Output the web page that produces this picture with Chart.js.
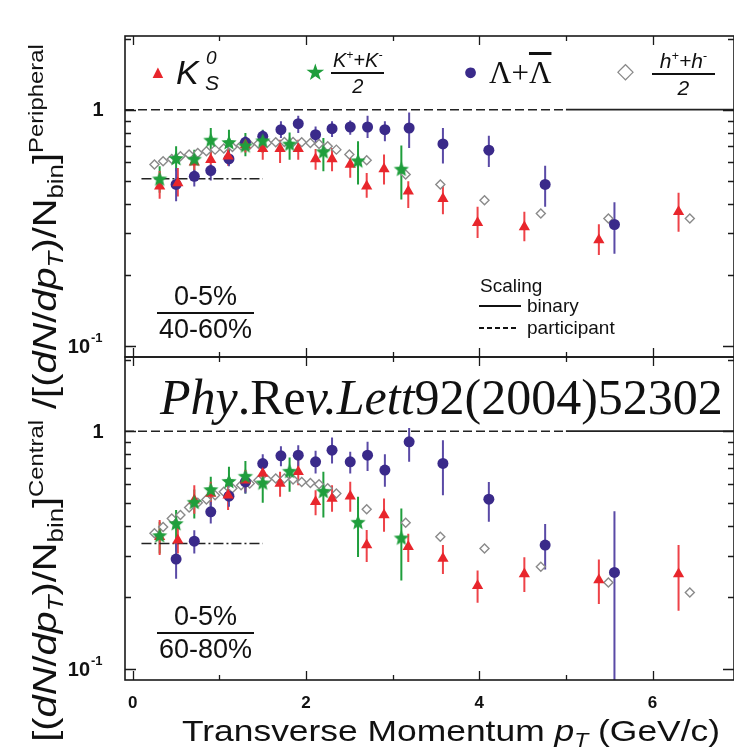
<!DOCTYPE html>
<html lang="en">
<head>
<meta charset="UTF-8">
<title>Central / Peripheral</title>
<style>
  body { margin: 0; background: #fff; }
  #wrap { position: relative; width: 734px; height: 753px; overflow: hidden; font-family: "Liberation Sans", Arial, sans-serif; color: #111; }
  .box { position: absolute; left: 0; width: 734px; }
  .t { position: absolute; white-space: nowrap; line-height: 1; }
  .frac { position: absolute; text-align: center; line-height: 1; white-space: nowrap; }
  .frac .num { border-bottom: 2px solid #111; padding: 0 2px 2px; }
  .frac .den { padding-top: 2px; }
  sup.s { font-size: 0.6em; vertical-align: 0.65em; line-height: 0; }
  sub.s { font-size: 0.65em; vertical-align: -0.3em; line-height: 0; }
  .serif { font-family: "Liberation Serif", "Times New Roman", serif; }
</style>
</head>
<body>
<div id="wrap">
  <div class="box" style="top:0;height:362px"><canvas id="topChart"></canvas></div>
  <div class="box" style="top:350px;height:403px"><canvas id="bottomChart"></canvas></div>

  <!-- legend, top panel -->
  <div class="t" style="left:149px;top:63px;font-size:18px;color:#e8262c">&#9650;</div>
  <div class="t" style="left:176px;top:55px;font-size:34px;font-style:italic">K</div>
  <div class="t" style="left:206px;top:48px;font-size:19px;font-style:italic">0</div>
  <div class="t" style="left:205px;top:72px;font-size:21px;font-style:italic">S</div>

  <div class="t" style="left:305px;top:61px;font-size:23px;color:#1f9e3c">&#9733;</div>
  <div class="frac" style="left:331px;top:50px;font-size:20px;font-style:italic">
    <div class="num">K<sup class="s">+</sup>+K<sup class="s">-</sup></div>
    <div class="den">2</div>
  </div>

  <div class="t" style="left:463px;top:59px;font-size:25px;color:#3a2a8a">&#9679;</div>
  <div class="t serif" style="left:489px;top:57px;font-size:31px">&Lambda;+<span style="text-decoration:overline">&Lambda;</span></div>

  <div class="t" style="left:617px;top:60px;font-size:22px;color:#888">&#9671;</div>
  <div class="frac" style="left:652px;top:50px;font-size:21px;font-style:italic">
    <div class="num">&nbsp;h<sup class="s">+</sup>+h<sup class="s">-</sup>&nbsp;</div>
    <div class="den">2</div>
  </div>

  <!-- centrality ratio labels -->
  <div class="frac" style="left:157px;top:283px;font-size:27px">
    <div class="num">&nbsp;&nbsp;0-5%&nbsp;&nbsp;</div>
    <div class="den">40-60%</div>
  </div>
  <div class="frac" style="left:157px;top:603px;font-size:27px">
    <div class="num">&nbsp;&nbsp;0-5%&nbsp;&nbsp;</div>
    <div class="den">60-80%</div>
  </div>

  <!-- scaling key -->
  <div class="t" style="left:480px;top:276px;font-size:19px">Scaling</div>
  <div style="position:absolute;left:479px;top:305px;width:42px;height:1.5px;background:#111"></div>
  <div class="t" style="left:527px;top:296px;font-size:19px">binary</div>
  <div style="position:absolute;left:479px;top:327px;width:40px;height:1.5px;background:repeating-linear-gradient(90deg,#111 0 5px,transparent 5px 8px)"></div>
  <div class="t" style="left:527px;top:318px;font-size:19px">participant</div>

  <!-- reference -->
  <div class="t serif" style="left:160px;top:372px;font-size:50px"><i>Phy</i>.Re<i>v.Lett</i>92(2004)52302</div>

  <!-- axis titles -->
  <div class="t" style="left:-356px;top:368px;width:800px;height:50px;line-height:50px;text-align:center;font-size:34px;transform:rotate(-90deg) scaleX(1.17)">[(<i>dN</i>/<i>dp<sub class="s">T</sub></i>)/N<sub class="s">bin</sub>]<sup class="s">Central</sup> /[(<i>dN</i>/<i>dp<sub class="s">T</sub></i>)/N<sub class="s">bin</sub>]<sup class="s">Peripheral</sup></div>
  <div class="t" style="left:182px;top:716px;font-size:30px;transform-origin:0 0;transform:scaleX(1.18)">Transverse Momentum <i>p<sub class="s">T</sub></i> (GeV/c)</div>
</div>

<script src="https://cdn.jsdelivr.net/npm/chart.js"></script>
<script>
// axis ranges and ticks
const xMin = -0.09, xMax = 6.94;
const yMin = 0.09, yMax = 2.05;
const xTickValues = [0, 1, 2, 3, 4, 5, 6];
const xTickLabels = ['0', '', '2', '', '4', '', '6'];
const yTickValues = [0.1, 0.2, 0.3, 0.4, 0.5, 0.6, 0.7, 0.8, 0.9, 1, 2];

// K0s
const k0sPt = [0.31, 0.52, 0.71, 0.90, 1.10, 1.30, 1.50, 1.70, 1.91, 2.11, 2.30, 2.51, 2.70, 2.90, 3.18, 3.58, 3.98, 4.52, 5.38, 6.30];
const k0sTop = [0.475, 0.49, 0.60, 0.615, 0.635, 0.71, 0.683, 0.683, 0.683, 0.619, 0.619, 0.586, 0.475, 0.562, 0.452, 0.42, 0.333, 0.319, 0.281, 0.37];
const k0sTopLo = [0.42, 0.43, 0.55, 0.558, 0.58, 0.66, 0.615, 0.595, 0.615, 0.558, 0.549, 0.515, 0.424, 0.483, 0.384, 0.361, 0.287, 0.278, 0.243, 0.305];
const k0sTopHi = [0.55, 0.567, 0.66, 0.678, 0.69, 0.76, 0.735, 0.747, 0.747, 0.682, 0.688, 0.656, 0.54, 0.646, 0.498, 0.478, 0.389, 0.37, 0.328, 0.445];
const k0sBot = [0.36, 0.348, 0.513, 0.547, 0.538, 0.622, 0.664, 0.603, 0.675, 0.505, 0.521, 0.533, 0.332, 0.444, 0.327, 0.292, 0.224, 0.251, 0.237, 0.251];
const k0sBotLo = [0.302, 0.306, 0.45, 0.489, 0.466, 0.556, 0.593, 0.53, 0.593, 0.443, 0.458, 0.458, 0.282, 0.378, 0.282, 0.251, 0.19, 0.211, 0.188, 0.176];
const k0sBotHi = [0.423, 0.396, 0.593, 0.613, 0.593, 0.686, 0.755, 0.675, 0.767, 0.565, 0.593, 0.613, 0.384, 0.521, 0.371, 0.332, 0.26, 0.295, 0.289, 0.332];

// charged kaons (K+ + K-)/2
const kchPt = [0.31, 0.50, 0.71, 0.90, 1.11, 1.30, 1.50, 1.81, 2.20, 2.60, 3.10];
const kchTop = [0.507, 0.619, 0.615, 0.74, 0.723, 0.70, 0.735, 0.712, 0.661, 0.605, 0.558];
const kchTopLo = [0.445, 0.549, 0.54, 0.646, 0.635, 0.635, 0.656, 0.615, 0.549, 0.483, 0.417];
const kchTopHi = [0.576, 0.70, 0.678, 0.837, 0.823, 0.797, 0.823, 0.802, 0.759, 0.735, 0.705];
const kchBot = [0.362, 0.407, 0.50, 0.565, 0.612, 0.643, 0.603, 0.675, 0.556, 0.412, 0.354];
const kchBotLo = [0.306, 0.311, 0.43, 0.481, 0.53, 0.547, 0.50, 0.556, 0.434, 0.296, 0.236];
const kchBotHi = [0.416, 0.466, 0.569, 0.643, 0.708, 0.75, 0.697, 0.775, 0.675, 0.53, 0.473];

// Lambda + anti-Lambda
const lamPt = [0.50, 0.71, 0.90, 1.11, 1.30, 1.50, 1.71, 1.91, 2.11, 2.30, 2.51, 2.71, 2.91, 3.19, 3.58, 4.11, 4.76, 5.56];
const lamTop = [0.483, 0.523, 0.553, 0.619, 0.728, 0.772, 0.823, 0.873, 0.784, 0.831, 0.845, 0.845, 0.823, 0.837, 0.717, 0.674, 0.483, 0.327];
const lamTopLo = [0.41, 0.474, 0.502, 0.576, 0.682, 0.723, 0.759, 0.797, 0.723, 0.767, 0.784, 0.759, 0.735, 0.689, 0.592, 0.573, 0.389, 0.246];
const lamTopHi = [0.567, 0.558, 0.586, 0.667, 0.772, 0.818, 0.893, 0.943, 0.85, 0.893, 0.901, 0.943, 0.893, 0.974, 0.837, 0.777, 0.58, 0.406];
const lamBot = [0.29, 0.345, 0.458, 0.533, 0.612, 0.731, 0.788, 0.793, 0.743, 0.832, 0.743, 0.793, 0.686, 0.902, 0.732, 0.518, 0.332, 0.255];
const lamBotLo = [0.24, 0.306, 0.409, 0.481, 0.547, 0.664, 0.713, 0.708, 0.664, 0.731, 0.664, 0.681, 0.584, 0.743, 0.538, 0.416, 0.262, 0.05];
const lamBotHi = [0.348, 0.383, 0.505, 0.593, 0.675, 0.80, 0.865, 0.873, 0.827, 0.941, 0.819, 0.902, 0.80, 1.03, 0.917, 0.612, 0.407, 0.461];

// charged hadrons (h+ + h-)/2
const hTopPt = [0.25, 0.35, 0.45, 0.55, 0.65, 0.75, 0.85, 0.95, 1.05, 1.15, 1.25, 1.35, 1.45, 1.55, 1.65, 1.75, 1.85, 1.95, 2.05, 2.15, 2.25, 2.35, 2.50, 2.70, 3.15, 3.55, 4.06, 4.71, 5.49, 6.43];
const hTop = [0.586, 0.605, 0.619, 0.635, 0.646, 0.656, 0.667, 0.678, 0.685, 0.696, 0.705, 0.711, 0.718, 0.723, 0.728, 0.73, 0.73, 0.728, 0.723, 0.716, 0.70, 0.678, 0.646, 0.611, 0.532, 0.483, 0.414, 0.364, 0.347, 0.347];
const hBotPt = [0.25, 0.35, 0.45, 0.55, 0.65, 0.75, 0.85, 0.95, 1.05, 1.15, 1.25, 1.35, 1.45, 1.55, 1.65, 1.75, 1.85, 1.95, 2.05, 2.15, 2.25, 2.35, 2.70, 3.15, 3.55, 4.06, 4.71, 5.49, 6.43];
const hBot = [0.372, 0.396, 0.43, 0.444, 0.478, 0.50, 0.516, 0.538, 0.556, 0.575, 0.593, 0.602, 0.622, 0.626, 0.632, 0.632, 0.626, 0.612, 0.606, 0.598, 0.575, 0.547, 0.47, 0.412, 0.36, 0.321, 0.269, 0.231, 0.21];

// scaling reference lines
const binaryLevel = 1;
const binaryDashedTo = 5.0;
const participantPt = [0.1, 1.5];
const participantTop = 0.51;
const participantBot = 0.337;

const colors = { k0s: '#e8262c', k0sBar: '#ee4248', kch: '#1f9e3c', lam: '#3a2a8a', lamBar: '#5a4aa6', h: '#8a8a8a' };

function starImage(color, r) {
  const c = document.createElement('canvas');
  const s = Math.ceil(r * 2 + 2);
  c.width = c.height = s;
  const g = c.getContext('2d');
  g.fillStyle = color;
  g.beginPath();
  for (let i = 0; i < 10; i++) {
    const rad = i % 2 ? r * 0.45 : r;
    const a = -Math.PI / 2 + i * Math.PI / 5;
    g.lineTo(s / 2 + rad * Math.cos(a), s / 2 + rad * Math.sin(a));
  }
  g.closePath();
  g.fill();
  return c;
}
const star = starImage(colors.kch, 8);

const pts = (xs, ys) => xs.map((x, i) => ({ x: x, y: ys[i] }));

// vertical error bars, drawn under the markers
const errorBars = {
  id: 'errorBars',
  beforeDatasetsDraw(chart) {
    const { ctx, chartArea: a, scales: { x, y } } = chart;
    ctx.save();
    ctx.beginPath();
    ctx.rect(a.left, a.top, a.right - a.left, a.bottom - a.top);
    ctx.clip();
    ctx.lineWidth = 2;
    chart.data.datasets.forEach(ds => {
      if (!ds.errLo) return;
      ctx.strokeStyle = ds.errColor;
      ctx.beginPath();
      ds.data.forEach((p, i) => {
        const px = x.getPixelForValue(p.x);
        ctx.moveTo(px, y.getPixelForValue(ds.errLo[i]));
        ctx.lineTo(px, y.getPixelForValue(ds.errHi[i]));
      });
      ctx.stroke();
    });
    ctx.restore();
  }
};

// box frame with inward ticks and y labels
const frame = {
  id: 'frame',
  afterDatasetsDraw(chart) {
    const { ctx, chartArea: a, scales: { x, y } } = chart;
    ctx.save();
    ctx.strokeStyle = '#1a1a1a';
    ctx.lineWidth = 1.6;
    ctx.strokeRect(a.left, a.top, a.right - a.left, a.bottom - a.top);
    ctx.lineWidth = 1.3;
    ctx.beginPath();
    xTickValues.forEach((v, i) => {
      const px = Math.round(x.getPixelForValue(v)) + 0.5;
      const len = xTickLabels[i] ? 9 : 5;
      ctx.moveTo(px, a.bottom); ctx.lineTo(px, a.bottom - len);
      ctx.moveTo(px, a.top); ctx.lineTo(px, a.top + len);
    });
    yTickValues.forEach(v => {
      const py = Math.round(y.getPixelForValue(v)) + 0.5;
      if (py < a.top + 2 || py > a.bottom - 2) return;
      const len = (v === 1 || v === 0.1) ? 11 : 6;
      ctx.moveTo(a.left, py); ctx.lineTo(a.left + len, py);
      ctx.moveTo(a.right, py); ctx.lineTo(a.right - len, py);
    });
    ctx.stroke();

    ctx.fillStyle = '#111';
    ctx.textBaseline = 'middle';
    ctx.font = 'bold 20px "Liberation Sans", Arial, sans-serif';
    ctx.textAlign = 'center';
    ctx.fillText('1', a.left - 27, y.getPixelForValue(1) + 1);
    const p1 = y.getPixelForValue(0.1) + 1;
    ctx.textAlign = 'right';
    ctx.fillText('10', a.left - 35, p1);
    ctx.textAlign = 'left';
    ctx.font = 'bold 13px "Liberation Sans", Arial, sans-serif';
    ctx.fillText('-1', a.left - 34, p1 - 9);
    ctx.restore();
  }
};

function datasets(panel) {
  const top = panel === 'top';
  const part = top ? participantTop : participantBot;
  return [
    {
      label: '(K+ + K-)/2', data: pts(kchPt, top ? kchTop : kchBot),
      errLo: top ? kchTopLo : kchBotLo, errHi: top ? kchTopHi : kchBotHi, errColor: colors.kch,
      pointStyle: star, pointRadius: 8
    },
    {
      label: 'K0s', data: pts(k0sPt, top ? k0sTop : k0sBot),
      errLo: top ? k0sTopLo : k0sBotLo, errHi: top ? k0sTopHi : k0sBotHi, errColor: colors.k0sBar,
      pointStyle: 'triangle', pointRadius: 6.5,
      backgroundColor: colors.k0s, borderColor: colors.k0s, borderWidth: 0
    },
    {
      label: 'Lambda', data: pts(lamPt, top ? lamTop : lamBot),
      errLo: top ? lamTopLo : lamBotLo, errHi: top ? lamTopHi : lamBotHi, errColor: colors.lamBar,
      pointStyle: 'circle', pointRadius: 5.5,
      backgroundColor: colors.lam, borderColor: colors.lam, borderWidth: 0
    },
    {
      label: '(h+ + h-)/2', data: pts(top ? hTopPt : hBotPt, top ? hTop : hBot),
      pointStyle: 'rectRot', pointRadius: 4.5,
      backgroundColor: '#fff', borderColor: colors.h, borderWidth: 1.4
    },
    {
      label: 'binary (dashed)', data: [{ x: xMin, y: binaryLevel }, { x: binaryDashedTo, y: binaryLevel }],
      showLine: true, pointRadius: 0, borderColor: '#222', borderWidth: 1.5, borderDash: [9, 4]
    },
    {
      label: 'binary', data: [{ x: binaryDashedTo, y: binaryLevel }, { x: xMax, y: binaryLevel }],
      showLine: true, pointRadius: 0, borderColor: '#222', borderWidth: 1.8
    },
    {
      label: 'participant', data: [{ x: participantPt[0], y: part }, { x: participantPt[1], y: part }],
      showLine: true, pointRadius: 0, borderColor: '#222', borderWidth: 1.5, borderDash: [10, 3, 2, 3]
    }
  ];
}

function makeChart(id, panel) {
  const bottom = panel === 'bottom';
  return new Chart(document.getElementById(id), {
    type: 'scatter',
    data: { datasets: datasets(panel) },
    options: {
      responsive: true,
      maintainAspectRatio: false,
      animation: false,
      layout: {
        autoPadding: false,
        padding: bottom ? { left: 125, top: 7, right: 0, bottom: 0 } : { left: 125, top: 36, right: 0, bottom: 5 }
      },
      plugins: { legend: { display: false }, tooltip: { enabled: false } },
      scales: {
        x: {
          type: 'linear', min: xMin, max: xMax, display: bottom,
          grid: { display: false }, border: { display: false },
          afterBuildTicks: s => { s.ticks = xTickValues.map(v => ({ value: v })); },
          afterFit: s => { if (bottom) s.height = 73; },
          ticks: {
            autoSkip: false, maxRotation: 0, padding: 5, color: '#111',
            font: { family: '"Liberation Sans", Arial, sans-serif', size: 17, weight: 'bold' },
            callback: (v, i) => xTickLabels[i]
          }
        },
        y: { type: 'logarithmic', min: yMin, max: yMax, display: false }
      }
    },
    plugins: [errorBars, frame]
  });
}

makeChart('topChart', 'top');
makeChart('bottomChart', 'bottom');
</script>
</body>
</html>
